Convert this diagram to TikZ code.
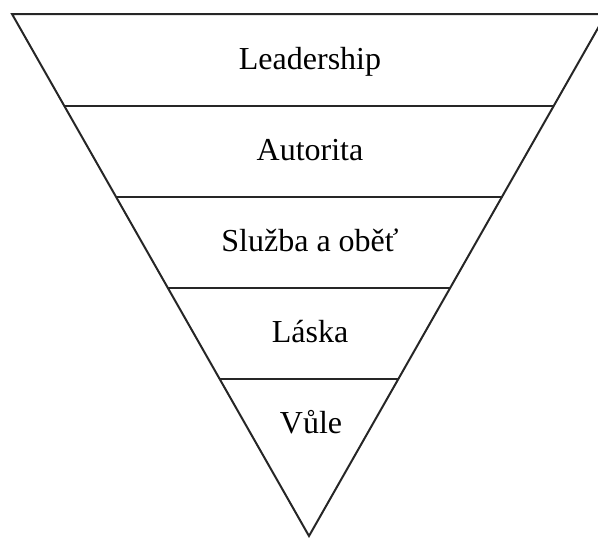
\documentclass[tikz,border=0pt]{standalone}
\usepackage{fontspec}
\setmainfont{Liberation Serif}
\usetikzlibrary{calc}

\begin{document}
\begin{tikzpicture}[
    x=0.5pt, y=-0.5pt,
    edge/.style={draw=black!85, line width=1pt},
    level/.style={
        anchor=base,
        inner sep=0pt,
        font=\fontsize{16}{19}\selectfont
    }
]
    \clip (0,0) rectangle (598,537);

    % corners of the funnel
    \coordinate (tl) at (12,14);
    \coordinate (tr) at (606,14);
    \coordinate (apex) at (309,536);

    \draw[edge, line join=miter] (tl) -- (tr) -- (apex) -- cycle;

    % dividing lines
    \draw[edge] ($(tl)!0.1762!(apex)$) -- ($(tr)!0.1762!(apex)$);
    \draw[edge] ($(tl)!0.3506!(apex)$) -- ($(tr)!0.3506!(apex)$);
    \draw[edge] ($(tl)!0.5249!(apex)$) -- ($(tr)!0.5249!(apex)$);
    \draw[edge] ($(tl)!0.6992!(apex)$) -- ($(tr)!0.6992!(apex)$);

    \node[level] (lead) at (310,69)  {Leadership};
    \node[level] (aut)  at (310,160) {Autorita};
    \node[level] (sluz) at (310,251) {Služba a oběť};
    \node[level] (lask) at (310,342) {Láska};
    \node[level] (vule) at (311,433) {Vůle};
\end{tikzpicture}
\end{document}
